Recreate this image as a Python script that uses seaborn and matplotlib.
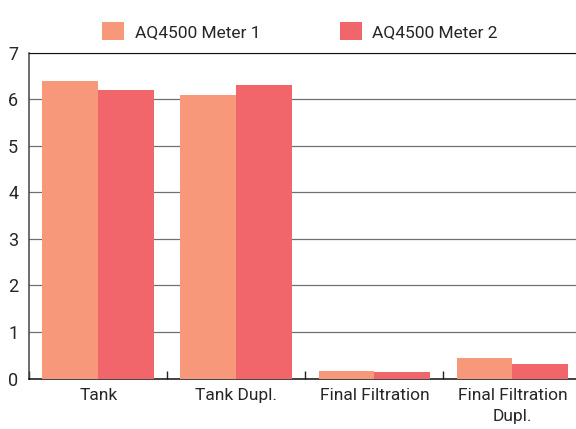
import matplotlib
matplotlib.use("Agg")
import matplotlib.pyplot as plt
import pandas as pd
import seaborn as sns

categories = ["Tank", "Tank Dupl.", "Final Filtration", "Final Filtration\nDupl."]
meter1 = [6.4, 6.1, 0.17, 0.44]
meter2 = [6.2, 6.3, 0.15, 0.31]
series = ["AQ4500 Meter 1", "AQ4500 Meter 2"]
colors = ["#F7987A", "#F1666A"]
yticks = [0, 1, 2, 3, 4, 5, 6, 7]

sns.set_theme(style="white")
plt.rcParams["font.family"] = ["Roboto", "Liberation Sans", "DejaVu Sans"]
TXT = "#262626"
FS = 12.5

df = pd.DataFrame({
    "cat": categories * 2,
    "value": meter1 + meter2,
    "meter": [series[0]] * 4 + [series[1]] * 4,
})

fig = plt.figure(figsize=(5.76, 4.29), dpi=100)
ax = fig.add_axes([0.0509, 0.1177, 0.949, 0.7595])

sns.barplot(data=df, x="cat", y="value", hue="meter", palette=colors,
            width=0.81, gap=0, saturation=1, errorbar=None, ax=ax, zorder=3,
            linewidth=0)

ax.set_xlim(-0.5, 3.46)
ax.set_ylim(0, 7)
ax.set_yticks(yticks)
ax.set_xlabel("")
ax.set_ylabel("")

# gridlines
ax.set_axisbelow(True)
ax.yaxis.grid(True, color="#707070", linewidth=0.9)
ax.xaxis.grid(False)

ax.spines["right"].set_visible(False)
ax.spines["top"].set_color("#111111")
ax.spines["top"].set_linewidth(0.8)
ax.spines["left"].set_color("#444444")
ax.spines["left"].set_linewidth(1.1)
ax.spines["bottom"].set_color("#111111")
ax.spines["bottom"].set_linewidth(1.1)

ax.tick_params(axis="y", length=0, pad=8, labelsize=FS + 0.5, labelcolor=TXT)
ax.tick_params(axis="x", which="major", length=0, pad=7, labelsize=FS, labelcolor=TXT)
ax.set_xticks([-0.5, 0.5, 1.5, 2.5], minor=True)
ax.tick_params(axis="x", which="minor", direction="in", length=6, width=1.0,
               color="#222222", bottom=True)

for lab in ax.get_xticklabels():
    lab.set_horizontalalignment("center")
    lab.set_linespacing(1.45)

sns.move_legend(ax, "center", bbox_to_anchor=(300 / 576, 1 - 31 / 429),
                bbox_transform=fig.transFigure, ncol=2, frameon=False, title=None,
                fontsize=FS, handlelength=1.25, handleheight=1.25,
                handletextpad=0.6, columnspacing=4.6, labelcolor=TXT)

fig.savefig("out.png", dpi=100)
